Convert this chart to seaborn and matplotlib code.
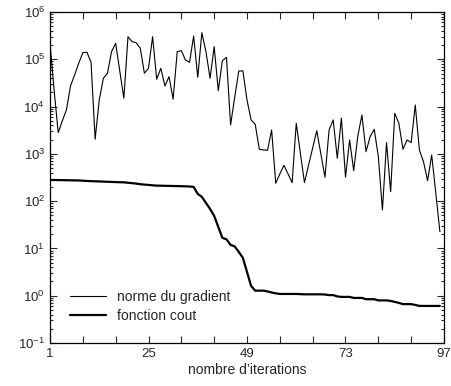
import numpy as np
import pandas as pd
import seaborn as sns
import matplotlib
matplotlib.use("Agg")
import matplotlib.pyplot as plt
from matplotlib.ticker import FixedLocator, LogFormatterSciNotation, NullFormatter

sns.set_style("ticks")
plt.rcParams['font.family'] = ['Liberation Sans', 'DejaVu Sans']

# values (one point per iteration, 1..96)
norme_gradient = [
    2.18e5, 2.24e4, 2.81e3, 4.96e3, 8.47e3, 2.73e4, 4.66e4, 8.23e4, 1.38e5, 1.41e5,
    8.64e4, 2.04e3, 1.38e4, 3.96e4, 5.06e4, 1.45e5, 2.18e5, 5.66e4, 1.50e4, 3.00e5,
    2.36e5, 2.24e5, 1.71e5, 5.06e4, 6.45e4, 3.00e5, 3.78e4, 6.45e4, 2.73e4, 4.29e4,
    1.43e4, 1.45e5, 1.52e5, 9.67e4, 8.64e4, 3.11e5, 4.16e4, 3.65e5, 1.45e5, 3.96e4,
    1.85e5, 2.17e4, 9.34e4, 1.10e5, 4.08e3, 1.57e4, 5.66e4, 5.66e4, 1.38e4, 5.21e3,
    4.23e3, 1.25e3, 1.21e3, 1.19e3, 3.20e3, 239, 376, 574, 376, 246,
    4.44e3, 1.04e3, 246, 582, 1.33e3, 3.09e3, 995, 320, 3.20e3, 5.21e3,
    807, 5.74e3, 320, 1.97e3, 441, 2.39e3, 6.64e3, 1.11e3, 2.31e3, 3.31e3,
    873, 65, 1.73e3, 159, 7.21e3, 4.44e3, 1.25e3, 1.97e3, 1.73e3, 1.08e4,
    1.21e3, 684, 271, 948, 149, 22.6,
]

fonction_cout = [
    281, 280, 279, 278, 277, 276, 275, 274, 270, 267,
    265, 263, 261, 259, 257, 255, 253, 251, 250, 245,
    240, 235, 228, 224, 220, 216, 213, 212, 211, 210,
    209, 208, 207, 206, 204, 200, 142, 123, 91.6, 68.4,
    48.7, 28.5, 16.7, 15.6, 11.9, 11.0, 8.43, 6.30, 3.18, 1.61,
    1.28, 1.28, 1.28, 1.23, 1.17, 1.12, 1.09, 1.09, 1.09, 1.09,
    1.09, 1.08, 1.07, 1.07, 1.07, 1.07, 1.07, 1.06, 1.03, 1.03,
    0.966, 0.944, 0.944, 0.944, 0.898, 0.898, 0.898, 0.843, 0.843, 0.843,
    0.796, 0.796, 0.796, 0.776, 0.740, 0.705, 0.664, 0.664, 0.664, 0.638,
    0.608, 0.608, 0.608, 0.608, 0.608, 0.608,
]

iterations = list(range(1, len(norme_gradient) + 1))
x_labels = [1, 25, 49, 73, 97]
x_minor = [9, 17, 33, 41, 57, 65, 81, 89]
y_decades = [1e-1, 1e0, 1e1, 1e2, 1e3, 1e4, 1e5, 1e6]

df = pd.DataFrame({
    "iteration": iterations,
    "norme du gradient": norme_gradient,
    "fonction cout": fonction_cout,
})

fig = plt.figure(figsize=(4.51, 3.86), dpi=100)
ax = fig.add_axes([50 / 451, 1 - 343 / 386, 394 / 451, 331 / 386])

sns.lineplot(data=df, x="iteration", y="norme du gradient", ax=ax,
             color="black", linewidth=0.8, label="norme du gradient")
sns.lineplot(data=df, x="iteration", y="fonction cout", ax=ax,
             color="black", linewidth=1.6, label="fonction cout")

ax.set_yscale("log")
ax.set_ylim(1e-1, 1e6)
ax.set_xlim(1, 97)

ax.set_xticks(x_labels)
ax.set_xticklabels([str(v) for v in x_labels])
ax.xaxis.set_minor_locator(FixedLocator(x_minor))

y_minor = [m * d for d in y_decades[:-1] for m in range(2, 10)]
ax.yaxis.set_major_locator(FixedLocator(y_decades))
ax.yaxis.set_major_formatter(LogFormatterSciNotation())
ax.yaxis.set_minor_locator(FixedLocator(y_minor))
ax.yaxis.set_minor_formatter(NullFormatter())

ax.tick_params(which="both", direction="in", top=True, right=True, labelsize=9.5, width=0.8)
ax.tick_params(which="major", length=5)
ax.tick_params(axis="y", which="minor", length=2.5)
ax.tick_params(axis="x", which="minor", length=5)
for s in ax.spines.values():
    s.set_linewidth(0.9)
    s.set_color("black")

ax.set_xlabel("nombre d\u2019iterations", fontsize=10, labelpad=2)
ax.set_ylabel(None)

leg = ax.legend(loc="lower left", bbox_to_anchor=(0.03, 0.035), frameon=False,
                fontsize=10, handlelength=2.6, labelspacing=0.35, borderaxespad=0.2)

fig.savefig("out.png", dpi=100)
